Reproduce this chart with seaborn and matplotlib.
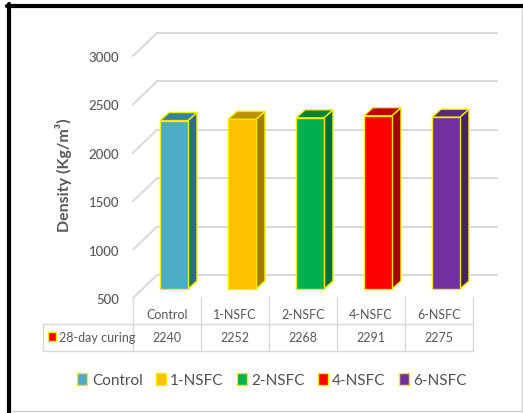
import matplotlib
matplotlib.use("Agg")
import matplotlib.pyplot as plt
import matplotlib.transforms as mtransforms
from matplotlib.patches import Polygon, Patch
from matplotlib.lines import Line2D
import seaborn as sns
import pandas as pd

# ---- data -------------------------------------------------------------
mixes = ["Control", "1-NSFC", "2-NSFC", "4-NSFC", "6-NSFC"]
density_28d = [2240, 2252, 2268, 2291, 2275]
series_name = "28-day curing"
y_ticks = [500, 1000, 1500, 2000, 2500, 3000]

front_colors = ["#4BACC6", "#FFC000", "#00B050", "#FF0000", "#7030A0"]
side_colors = ["#2F6B7C", "#A67C00", "#006E33", "#A60000", "#47206A"]
top_colors = ["#31849B", "#BF9000", "#00843C", "#C00000", "#5A2880"]
edge_yellow = "#EEEE00"
text_gray = "#595959"
grid_gray = "#D9D9D9"

df = pd.DataFrame({"mix": mixes, "density": density_28d})

sns.set_theme(style="white")
plt.rcParams["font.family"] = ["Lato", "DejaVu Sans"]

W, H = 523, 414
fig = plt.figure(figsize=(W / 100, H / 100), dpi=100)
fig.patch.set_facecolor("white")


def fig_rect(left, top, right, bottom):
    return [left / W, 1 - bottom / H, (right - left) / W, (bottom - top) / H]


def fy(py):
    return 1 - py / H


def shift(dx, dy):
    # pixel shift (dy positive = downward on the page)
    return mtransforms.ScaledTranslation(dx / 100, -dy / 100, fig.dpi_scale_trans)


ymin, ymax = y_ticks[0], y_ticks[-1]
xlo, xhi = -0.5, len(mixes) - 0.5

# front plane of the 3D box: holds the value axis and the category row
ax_f = fig.add_axes(fig_rect(133, 57, 473, 299))
ax_f.set_xlim(xlo, xhi)
ax_f.set_ylim(ymin, ymax)
ax_f.patch.set_visible(False)
for s in ax_f.spines.values():
    s.set_visible(False)

# plane in which the columns stand
ax = fig.add_axes(fig_rect(140, 48, 480, 290))
ax.patch.set_visible(False)
for s in ax.spines.values():
    s.set_visible(False)

# back wall gridlines plus the diagonal lines on the side wall
back = ax_f.transData + shift(24, -23)
for v in y_ticks:
    ax_f.plot([xlo, xhi], [v, v], color=grid_gray, lw=1.4,
              transform=back, clip_on=False, zorder=0)
    p0 = ax_f.transData.transform((xlo, v))
    p1 = back.transform((xlo, v))
    fig.add_artist(Line2D([p0[0] / W, p1[0] / W], [p0[1] / H, p1[1] / H],
                          transform=fig.transFigure, color=grid_gray, lw=1.4, zorder=0))

# columns
sns.barplot(data=df, x="mix", y="density", hue="mix", palette=front_colors,
            width=0.41, ax=ax, legend=False, edgecolor=edge_yellow,
            linewidth=1.0, saturation=1)
ax.set_xlim(xlo, xhi)
ax.set_ylim(ymin, ymax)

# depth of each column in data units
inv = ax.transData.inverted()
base = ax.transData.transform((0, ymin))
o = inv.transform(base)
d = inv.transform(base + [9, 8])
ddx, ddy = d[0] - o[0], d[1] - o[1]

for i, bar in enumerate(ax.patches):
    x0 = bar.get_x()
    x1 = x0 + bar.get_width()
    top = density_28d[i]
    bar.set_y(ymin)
    bar.set_height(top - ymin)
    bar.set_clip_on(False)
    bar.set_zorder(3)
    side = Polygon([(x1, ymin), (x1 + ddx, ymin + ddy), (x1 + ddx, top + ddy), (x1, top)],
                   closed=True, facecolor=side_colors[i], edgecolor=edge_yellow,
                   lw=1.0, clip_on=False, zorder=2)
    cap = Polygon([(x0, top), (x1, top), (x1 + ddx, top + ddy), (x0 + ddx, top + ddy)],
                  closed=True, facecolor=top_colors[i], edgecolor=edge_yellow,
                  lw=1.0, clip_on=False, zorder=2)
    ax.add_patch(side)
    ax.add_patch(cap)

ax.set_xticks([])
ax.set_yticks([])
ax.set_xlabel("")
ax.set_ylabel("")

# value axis labels
ax_f.set_yticks(y_ticks)
ax_f.set_yticklabels([str(t) for t in y_ticks])
ax_f.tick_params(axis="y", length=0, pad=10, labelsize=9.5, labelcolor=text_gray)
for lab in ax_f.get_yticklabels():
    lab.set_fontweight("medium")
ax_f.set_ylabel("Density (Kg/m³)", fontsize=11.5, fontweight="bold", color=text_gray,
                va="center")
ax_f.yaxis.set_label_coords((63 - 133) / 340, (299 - 175) / 242)

# category header row of the data table
ax_f.set_xticks(range(len(mixes)))
ax_f.set_xticklabels(mixes)
ax_f.tick_params(axis="x", length=0, pad=7.5, labelsize=9, labelcolor=text_gray)

# data table grid
col_tr = mtransforms.blended_transform_factory(ax_f.transData, fig.transFigure)
edges = [i - 0.5 for i in range(len(mixes) + 1)]
for e in edges:
    fig.add_artist(Line2D([e, e], [fy(298), fy(352)], transform=col_tr,
                          color=grid_gray, lw=1.0))
left_x = 43 / W
x_end = ax_f.transData.transform((edges[-1], 0))[0] / W
for py in (325, 352):
    fig.add_artist(Line2D([left_x, x_end], [fy(py), fy(py)], transform=fig.transFigure,
                          color=grid_gray, lw=1.0))
fig.add_artist(Line2D([left_x, left_x], [fy(325), fy(352)], transform=fig.transFigure,
                      color=grid_gray, lw=1.0))

for i, v in enumerate(density_28d):
    fig.text(i, fy(338), str(v), transform=col_tr, ha="center", va="center",
             fontsize=9, color=text_gray)

fig.add_artist(plt.Rectangle((47.5 / W, fy(341.5)), 8 / W, 9 / H, transform=fig.transFigure,
                             facecolor="#FF0000", edgecolor=edge_yellow, lw=1.0))
fig.text(59 / W, fy(338), series_name, ha="left", va="center", fontsize=9, color=text_gray)

# legend
handles = [Patch(facecolor=c, edgecolor=edge_yellow, lw=1.0) for c in front_colors]
fig.legend(handles, mixes, loc="center", bbox_to_anchor=(272 / W, fy(381)), ncol=5,
           frameon=False, fontsize=11, handlelength=0.65, handleheight=0.8,
           handletextpad=0.3, columnspacing=0.85, labelcolor="#505050")

# chart frame
fig.add_artist(Line2D([7 / W, 1], [fy(7), fy(7)], transform=fig.transFigure,
                      color="black", lw=3.0))
fig.add_artist(Line2D([9 / W, 9 / W], [fy(5), 0], transform=fig.transFigure,
                      color="black", lw=3.0))
fig.add_artist(Line2D([11 / W, 1], [fy(411.5), fy(411.5)], transform=fig.transFigure,
                      color="#D0D0D0", lw=1.0))
fig.add_artist(Line2D([521.5 / W, 521.5 / W], [fy(9), fy(411.5)], transform=fig.transFigure,
                      color="#D0D0D0", lw=1.0))

fig.savefig("out.png", dpi=100, facecolor="white")
